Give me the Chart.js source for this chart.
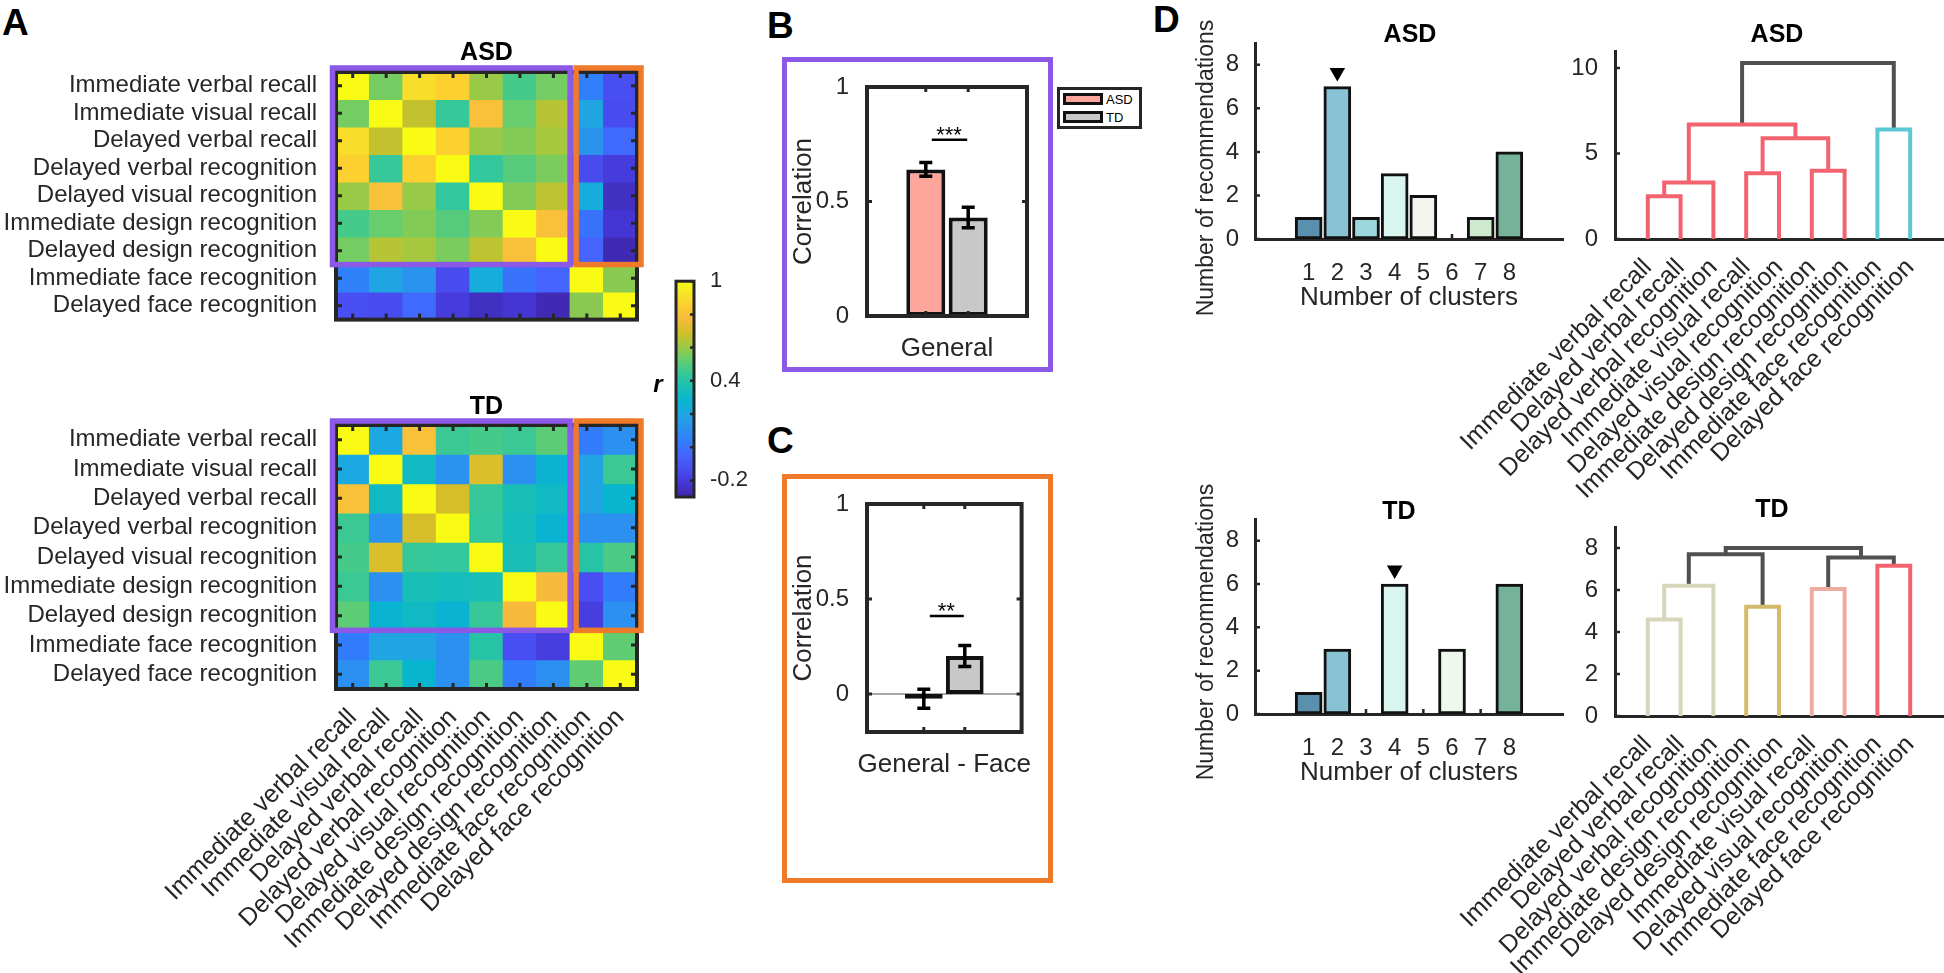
<!DOCTYPE html>
<html>
<head>
<meta charset="utf-8">
<title>Memory correlations ASD / TD</title>
<script src="https://cdn.jsdelivr.net/npm/chart.js@4.4.1/dist/chart.umd.min.js"></script>
<style>
  body { margin: 0; width: 1944px; height: 973px; position: relative; overflow: hidden; background: #fff;
         font-family: "Liberation Sans", Arial, Helvetica, sans-serif; color: #262626; }
  canvas { position: absolute; }
  .letter { position: absolute; font-size: 37px; line-height: 37px; font-weight: bold; color: #000; }
  .frame { position: absolute; box-sizing: border-box; border: 5px solid; }
  .legend { position: absolute; left: 1057px; top: 87px; width: 85px; height: 42px; box-sizing: border-box;
            border: 3px solid #262626; font-size: 13px; color: #000; }
  .legend div { height: 18px; display: flex; align-items: center; }
  .legend span { display: inline-block; width: 40px; height: 12px; box-sizing: border-box; border: 3px solid #111; margin: 0 3px; }
</style>
</head>
<body>
<div class="letter" style="left:2px;top:4px">A</div>
<div class="letter" style="left:767px;top:7px">B</div>
<div class="letter" style="left:767px;top:422px">C</div>
<div class="letter" style="left:1153px;top:1px">D</div>
<div class="frame" style="left:782px;top:57px;width:271px;height:315px;border-color:#8c58e6"></div>
<div class="frame" style="left:782px;top:474px;width:271px;height:409px;border-color:#ee7a2a"></div>
<div class="legend" id="legend"></div>
<script>
// Memory measures (rows / columns of the matrices)
const measures = [
    'Immediate verbal recall',
    'Immediate visual recall',
    'Delayed verbal recall',
    'Delayed verbal recognition',
    'Delayed visual recognition',
    'Immediate design recognition',
    'Delayed design recognition',
    'Immediate face recognition',
    'Delayed face recognition',
];
const generalCount = 7;

const asdCorr = [
    [1.00, 0.55, 0.90, 0.86, 0.60, 0.47, 0.55, 0.05, -0.13],
    [0.55, 1.00, 0.67, 0.44, 0.80, 0.53, 0.65, 0.20, -0.14],
    [0.90, 0.67, 1.00, 0.86, 0.60, 0.57, 0.62, 0.12, -0.03],
    [0.86, 0.44, 0.86, 1.00, 0.43, 0.50, 0.56, -0.14, -0.20],
    [0.60, 0.80, 0.60, 0.43, 1.00, 0.57, 0.66, 0.23, -0.25],
    [0.47, 0.53, 0.57, 0.50, 0.57, 1.00, 0.80, 0.00, -0.22],
    [0.55, 0.65, 0.62, 0.56, 0.66, 0.80, 1.00, -0.05, -0.28],
    [0.05, 0.20, 0.12, -0.14, 0.23, 0.00, -0.05, 1.00, 0.58],
    [-0.13, -0.14, -0.03, -0.20, -0.25, -0.22, -0.28, 0.58, 1.00],
];

const tdCorr = [
    [1.00, 0.21, 0.80, 0.45, 0.47, 0.45, 0.51, 0.03, 0.11],
    [0.21, 1.00, 0.32, 0.12, 0.71, 0.11, 0.27, 0.19, 0.45],
    [0.80, 0.32, 1.00, 0.70, 0.44, 0.36, 0.32, 0.20, 0.28],
    [0.45, 0.12, 0.70, 1.00, 0.43, 0.34, 0.27, 0.11, 0.11],
    [0.47, 0.71, 0.44, 0.43, 1.00, 0.36, 0.44, 0.40, 0.48],
    [0.45, 0.11, 0.36, 0.34, 0.36, 1.00, 0.77, -0.13, 0.03],
    [0.51, 0.27, 0.32, 0.27, 0.44, 0.77, 1.00, -0.19, 0.11],
    [0.03, 0.19, 0.20, 0.11, 0.40, -0.13, -0.19, 1.00, 0.52],
    [0.11, 0.45, 0.28, 0.11, 0.48, 0.03, 0.11, 0.52, 1.00],
];

// colour scale
const colorLimits = [-0.3, 1];
const colorTicks = [-0.2, 0.4, 1];
const colorMinorTicks = [-0.2, 0, 0.2, 0.4, 0.6, 0.8, 1];
const colorLabel = 'r';

// B / C
const groups = ['ASD', 'TD'];
const corrTicks = [0, 0.5, 1];
const generalMean = [0.64, 0.43];
const generalErr = [0.03, 0.045];
const generalSig = { text: '***', line: 0.77 };
const faceMean = [-0.025, 0.2];
const faceErr = [0.05, 0.055];
const faceSig = { text: '**', line: 0.41 };

// D: recommended number of clusters
const clusterNums = [1, 2, 3, 4, 5, 6, 7, 8];
const recTicks = [0, 2, 4, 6, 8];
const asdRecs = [1, 7, 1, 3, 2, 0, 1, 4];
const tdRecs = [1, 3, 0, 6, 0, 3, 0, 6];
const asdBest = 2;
const tdBest = 4;

// D: dendrograms, leaves in plotted order, merges = [node a, node b, height]
const asdLeaves = [
    'Immediate verbal recall',
    'Delayed verbal recall',
    'Delayed verbal recognition',
    'Immediate visual recall',
    'Delayed visual recognition',
    'Immediate design recognition',
    'Delayed design recognition',
    'Immediate face recognition',
    'Delayed face recognition',
];
const asdMerges = [[1, 2, 2.5], [10, 3, 3.3], [4, 5, 3.85], [6, 7, 4.0], [12, 13, 5.9], [11, 14, 6.7], [8, 9, 6.4], [15, 16, 10.3]];
const asdTreeTicks = [0, 5, 10];

const tdLeaves = [
    'Immediate verbal recall',
    'Delayed verbal recall',
    'Delayed verbal recognition',
    'Immediate design recognition',
    'Delayed design recognition',
    'Immediate visual recall',
    'Delayed visual recognition',
    'Immediate face recognition',
    'Delayed face recognition',
];
const tdMerges = [[1, 2, 4.6], [10, 3, 6.2], [4, 5, 5.2], [6, 7, 6.05], [8, 9, 7.15], [11, 12, 7.7], [13, 14, 7.55], [15, 16, 8.0]];
const tdTreeTicks = [0, 2, 4, 6, 8];

// styles
const ink = '#262626';
const family = '"Liberation Sans", Arial, Helvetica, sans-serif';
const purple = '#8c58e6';
const orange = '#ee7a2a';
const barEdge = '#111';
const groupFill = ['#ffa69c', '#c8c8c8'];
const clusterFill = ['#5b8fae', '#89c2d4', '#9cd7de', '#d9f5ef', '#f2f6ef', '#eef8ec', '#cdeacf', '#74b39a'];
const red = '#f2636f', grey = '#505050';
const asdLinkColors = [red, red, red, red, red, red, '#5ac8d2', grey];
const tdLinkColors = ['#d6d6ba', '#d6d6ba', '#d4ba6a', '#eeaca0', red, grey, grey, grey];
const rowFont = 24;
const nameFont = 25;

// parula colormap (64-step table, sampled)
const parulaIdx = [0, 4, 8, 12, 16, 20, 24, 28, 32, 36, 40, 44, 48, 52, 56, 60, 63];
const parulaRGB = [[62, 38, 168], [69, 55, 213], [72, 77, 240], [69, 99, 253], [50, 124, 252], [43, 145, 239],
    [32, 165, 227], [8, 181, 208], [25, 191, 182], [55, 200, 151], [100, 205, 111], [157, 201, 67],
    [209, 191, 39], [248, 186, 61], [252, 207, 48], [245, 233, 36], [249, 251, 21]];

function parula(v) {
    const t = Math.min(1, Math.max(0, (v - colorLimits[0]) / (colorLimits[1] - colorLimits[0]))) * 63;
    let k = 0;
    while (k < parulaIdx.length - 2 && t > parulaIdx[k + 1]) k++;
    const f = (t - parulaIdx[k]) / (parulaIdx[k + 1] - parulaIdx[k]);
    const c = parulaRGB[k].map((a, i) => Math.round(a + (parulaRGB[k + 1][i] - a) * f));
    return `rgb(${c})`;
}

Chart.defaults.font.family = family;
Chart.defaults.color = ink;
Chart.defaults.animation = false;
Chart.defaults.events = [];
Chart.defaults.plugins.legend.display = false;
Chart.defaults.plugins.tooltip.enabled = false;

function place(left, top, w, h) {
    const c = document.createElement('canvas');
    c.width = w;
    c.height = h;
    c.style.left = left + 'px';
    c.style.top = top + 'px';
    document.body.appendChild(c);
    return c;
}

// bold title centred over the plot area, optional free y label
const panelTitle = {
    id: 'panelTitle',
    afterDraw(chart, args, opts) {
        const { ctx, chartArea: a } = chart;
        ctx.save();
        if (opts.text) {
            ctx.font = `bold 25px ${family}`;
            ctx.fillStyle = '#000';
            ctx.textAlign = 'center';
            ctx.textBaseline = 'middle';
            ctx.fillText(opts.text, (a.left + a.right) / 2 + (opts.dx || 0), a.top - opts.dy);
        }
        if (opts.yLabel) {
            ctx.translate(opts.yLabel.x, opts.yLabel.y);
            ctx.rotate(-Math.PI / 2);
            ctx.font = `23px ${family}`;
            ctx.fillStyle = ink;
            ctx.textAlign = 'center';
            ctx.textBaseline = 'middle';
            ctx.fillText(opts.yLabel.text, 0, 0);
        }
        ctx.restore();
    }
};

// frame, inward ticks and the purple / orange blocks of a matrix
const heatBoxes = {
    id: 'heatBoxes',
    afterDatasetsDraw(chart) {
        const { ctx, chartArea: a, scales: { x, y } } = chart;
        const xe = k => x.getPixelForValue(k - 0.5);
        const ye = k => y.getPixelForValue(k);
        const n = measures.length;
        ctx.save();
        ctx.strokeStyle = ink;
        ctx.lineWidth = 4;
        ctx.strokeRect(a.left, a.top, a.width, a.height);
        ctx.lineWidth = 3;
        ctx.beginPath();
        for (let k = 0; k < n; k++) {
            const cx = x.getPixelForValue(k), cy = y.getPixelForValue(k + 0.5);
            ctx.moveTo(cx, a.top); ctx.lineTo(cx, a.top + 6);
            ctx.moveTo(cx, a.bottom); ctx.lineTo(cx, a.bottom - 6);
            ctx.moveTo(a.left, cy); ctx.lineTo(a.left + 6, cy);
            ctx.moveTo(a.right, cy); ctx.lineTo(a.right - 6, cy);
        }
        ctx.stroke();
        ctx.lineWidth = 5.5;
        ctx.strokeStyle = purple;
        ctx.strokeRect(xe(0) - 3.5, ye(0) - 4, xe(generalCount) - xe(0) + 3.5, ye(generalCount) - ye(0) + 4);
        ctx.strokeStyle = orange;
        ctx.strokeRect(xe(generalCount) + 6, ye(0) - 4, xe(n) - xe(generalCount) - 2, ye(generalCount) - ye(0) + 4);
        ctx.restore();
    }
};

function heatmap(corr, title, box, area, showNames) {
    return new Chart(place(...box), {
        type: 'bar',
        data: {
            labels: measures,
            datasets: corr.map((row, i) => ({
                label: measures[i],
                data: row.map(() => 1),
                backgroundColor: row.map(v => parula(v)),
                borderWidth: 0,
                inflateAmount: 0.5,
                barPercentage: 1,
                categoryPercentage: 1,
            }))
        },
        options: {
            responsive: false,
            layout: { padding: { left: 0, top: area.top, right: area.right, bottom: area.bottom } },
            scales: {
                x: {
                    stacked: true,
                    grid: { display: false },
                    border: { display: false },
                    ticks: { display: showNames, autoSkip: false, minRotation: 45, maxRotation: 45, font: { size: nameFont }, padding: 6 },
                    afterFit: s => { s.height = area.xh; }
                },
                y: {
                    stacked: true,
                    reverse: true,
                    min: 0,
                    max: measures.length,
                    grid: { display: false },
                    border: { display: false },
                    afterBuildTicks: s => { s.ticks = measures.map((_, i) => ({ value: i + 0.5 })); },
                    ticks: { callback: (v, i) => measures[i], font: { size: rowFont }, padding: 11 },
                    afterFit: s => { s.width = area.left; }
                }
            },
            plugins: { panelTitle: { text: title, dy: area.titleDy } }
        },
        plugins: [panelTitle, heatBoxes]
    });
}

heatmap(asdCorr, 'ASD', [0, 0, 660, 345], { left: 336, top: 72, right: 23, bottom: 9, xh: 0, titleDy: 19 }, false);
heatmap(tdCorr, 'TD', [0, 380, 660, 593], { left: 336, top: 45, right: 23, bottom: 0, xh: 284, titleDy: 18 }, true);

// colour bar
const colorStrip = {
    id: 'colorStrip',
    beforeDatasetsDraw(chart) {
        const { ctx, chartArea: a, scales: { y } } = chart;
        const g = ctx.createLinearGradient(0, y.getPixelForValue(colorLimits[0]), 0, y.getPixelForValue(colorLimits[1]));
        parulaIdx.forEach((k, i) => g.addColorStop(k / 63, `rgb(${parulaRGB[i]})`));
        ctx.save();
        ctx.fillStyle = g;
        ctx.fillRect(a.left, a.top, a.width, a.height);
        ctx.strokeStyle = ink;
        ctx.lineWidth = 3;
        ctx.strokeRect(a.left, a.top, a.width, a.height);
        ctx.lineWidth = 2.5;
        ctx.beginPath();
        colorMinorTicks.forEach(v => {
            const py = y.getPixelForValue(v);
            ctx.moveTo(a.right, py);
            ctx.lineTo(a.right - 4, py);
        });
        ctx.stroke();
        ctx.font = `italic bold 24px ${family}`;
        ctx.fillStyle = '#000';
        ctx.textAlign = 'center';
        ctx.textBaseline = 'middle';
        ctx.fillText(colorLabel, a.left - 18, (a.top + a.bottom) / 2 - 4);
        ctx.restore();
    }
};

new Chart(place(640, 260, 140, 260), {
    type: 'bar',
    data: { labels: [''], datasets: [] },
    options: {
        responsive: false,
        layout: { padding: { left: 36, top: 19, bottom: 23, right: 0 } },
        scales: {
            x: { display: false },
            y: {
                position: 'right',
                min: colorLimits[0],
                max: colorLimits[1],
                grid: { display: false },
                border: { display: false },
                afterBuildTicks: s => { s.ticks = colorMinorTicks.map(v => ({ value: v })); },
                ticks: { callback: v => colorTicks.includes(v) ? String(v) : '', font: { size: 22 }, padding: 8 },
                afterFit: s => { s.width = 86; }
            }
        }
    },
    plugins: [colorStrip]
});

// B / C helpers
const axesBox = {
    id: 'axesBox',
    beforeDatasetsDraw(chart) {
        const { ctx, chartArea: a, scales: { y } } = chart;
        if (y.min >= 0) return;
        ctx.save();
        ctx.strokeStyle = '#555';
        ctx.lineWidth = 1.2;
        ctx.beginPath();
        ctx.moveTo(a.left, y.getPixelForValue(0));
        ctx.lineTo(a.right, y.getPixelForValue(0));
        ctx.stroke();
        ctx.restore();
    },
    afterDatasetsDraw(chart) {
        const { ctx, chartArea: a, scales: { y } } = chart;
        ctx.save();
        ctx.strokeStyle = ink;
        ctx.lineWidth = 4;
        ctx.strokeRect(a.left, a.top, a.width, a.height);
        ctx.lineWidth = 3;
        ctx.beginPath();
        chart.data.datasets.forEach((ds, i) => {
            const px = chart.getDatasetMeta(i).data[0].x;
            ctx.moveTo(px, a.top); ctx.lineTo(px, a.top + 5);
            ctx.moveTo(px, a.bottom); ctx.lineTo(px, a.bottom - 5);
        });
        y.ticks.forEach(t => {
            const py = y.getPixelForValue(t.value);
            ctx.moveTo(a.left, py); ctx.lineTo(a.left + 5, py);
            ctx.moveTo(a.right, py); ctx.lineTo(a.right - 5, py);
        });
        ctx.stroke();
        ctx.restore();
    }
};

const errorBars = {
    id: 'errorBars',
    afterDatasetsDraw(chart, args, opts) {
        const { ctx, scales: { y } } = chart;
        const xs = chart.data.datasets.map((ds, i) => chart.getDatasetMeta(i).data[0].x);
        ctx.save();
        ctx.strokeStyle = '#000';
        ctx.lineWidth = 3.5;
        ctx.beginPath();
        chart.data.datasets.forEach((ds, i) => {
            const m = ds.data[0], e = opts.errs[i];
            const hi = y.getPixelForValue(m + e), lo = y.getPixelForValue(m - e);
            ctx.moveTo(xs[i], hi); ctx.lineTo(xs[i], lo);
            ctx.moveTo(xs[i] - 6.5, hi); ctx.lineTo(xs[i] + 6.5, hi);
            ctx.moveTo(xs[i] - 6.5, lo); ctx.lineTo(xs[i] + 6.5, lo);
        });
        ctx.stroke();
        const ly = y.getPixelForValue(opts.sig.line);
        ctx.lineWidth = 2.5;
        ctx.beginPath();
        ctx.moveTo(xs[0] + 6, ly);
        ctx.lineTo(xs[1] - 1, ly);
        ctx.stroke();
        ctx.font = `22px ${family}`;
        ctx.fillStyle = '#000';
        ctx.textAlign = 'center';
        ctx.textBaseline = 'alphabetic';
        ctx.fillText(opts.sig.text, (xs[0] + xs[1]) / 2 + 2, ly + 2);
        ctx.restore();
    }
};

function groupBars(box, area, category, means, errs, sig, yRange) {
    return new Chart(place(...box), {
        type: 'bar',
        data: {
            labels: [category],
            datasets: groups.map((g, i) => ({
                label: g,
                data: [means[i]],
                backgroundColor: groupFill[i],
                borderColor: barEdge,
                borderWidth: 4,
                borderSkipped: false,
                categoryPercentage: 0.53,
                barPercentage: 0.92,
            }))
        },
        options: {
            responsive: false,
            layout: { padding: { left: 0, top: area.top, right: area.right, bottom: 0 } },
            scales: {
                x: {
                    grid: { display: false },
                    border: { display: false },
                    ticks: { font: { size: 26 }, padding: 9 },
                    afterFit: s => { s.height = area.xh; }
                },
                y: {
                    min: yRange[0],
                    max: yRange[1],
                    grid: { display: false },
                    border: { display: false },
                    afterBuildTicks: s => { s.ticks = corrTicks.map(v => ({ value: v })); },
                    ticks: { callback: v => String(v), font: { size: 24 }, padding: 10 },
                    title: { display: true, text: 'Correlation', font: { size: 26 }, padding: { top: 6, bottom: 0 } },
                    afterFit: s => { s.width = area.left; }
                }
            },
            plugins: { errorBars: { errs, sig } }
        },
        plugins: [axesBox, errorBars]
    });
}

const bChart = groupBars([782, 57, 271, 315], { left: 85, top: 30, right: 26, xh: 56 }, 'General', generalMean, generalErr, generalSig, [0, 1]);
groupBars([782, 474, 271, 409], { left: 85, top: 30, right: 26, xh: 151 }, 'General - Face', faceMean, faceErr, faceSig, [-0.2, 1]);

document.getElementById('legend').innerHTML = bChart.data.datasets
    .map(ds => `<div><span style="background:${ds.backgroundColor}"></span>${ds.label}</div>`).join('');

// D helpers
const inwardTicks = {
    id: 'inwardTicks',
    beforeDatasetsDraw(chart) {
        const { ctx, chartArea: a, scales: { x, y } } = chart;
        ctx.save();
        ctx.strokeStyle = ink;
        ctx.lineWidth = 2.5;
        ctx.beginPath();
        x.ticks.forEach(t => { const px = x.getPixelForValue(t.value); ctx.moveTo(px, a.bottom); ctx.lineTo(px, a.bottom - 5); });
        y.ticks.forEach(t => { const py = y.getPixelForValue(t.value); ctx.moveTo(a.left, py); ctx.lineTo(a.left + 5, py); });
        ctx.stroke();
        ctx.restore();
    }
};

function clusterBars(box, area, counts, best, title) {
    return new Chart(place(...box), {
        type: 'bar',
        data: {
            datasets: [{
                type: 'scatter',
                data: [{ x: best, y: counts[best - 1] + 0.65 }],
                pointStyle: 'triangle',
                rotation: 180,
                pointRadius: 9,
                backgroundColor: '#000',
                borderWidth: 0,
            }, {
                data: clusterNums.map((k, i) => ({ x: k, y: counts[i] })),
                backgroundColor: clusterFill,
                borderColor: barEdge,
                borderWidth: 3,
                borderSkipped: false,
                barThickness: 27,
            }]
        },
        options: {
            responsive: false,
            layout: { padding: { left: 0, top: area.top, right: area.right, bottom: 0 } },
            scales: {
                x: {
                    type: 'linear',
                    min: -0.2,
                    max: 9.2,
                    grid: { display: false },
                    border: { color: ink, width: 3 },
                    afterBuildTicks: s => { s.ticks = clusterNums.map(v => ({ value: v })); },
                    ticks: { callback: v => String(v), font: { size: 24 }, padding: 12 },
                    title: { display: true, text: 'Number of clusters', font: { size: 26 }, padding: { top: 0, bottom: area.xTitlePad } },
                    afterFit: s => { s.height = area.xh; }
                },
                y: {
                    min: 0,
                    max: 9,
                    grid: { display: false },
                    border: { color: ink, width: 3 },
                    afterBuildTicks: s => { s.ticks = recTicks.map(v => ({ value: v })); },
                    ticks: { callback: v => String(v), font: { size: 24 }, padding: 8 },
                    afterFit: s => { s.width = area.left; }
                }
            },
            plugins: {
                panelTitle: {
                    text: title, dy: area.titleDy, dx: area.titleDx,
                    yLabel: { text: 'Number of recommendations', x: 57, y: area.yLabelAt }
                }
            }
        },
        plugins: [panelTitle, inwardTicks]
    });
}

clusterBars([1150, 0, 430, 340], { left: 105, top: 43, right: 17, xh: 101, xTitlePad: 27, titleDy: 8, titleDx: 1, yLabelAt: 168 }, asdRecs, asdBest, 'ASD');
clusterBars([1150, 470, 430, 340], { left: 105, top: 49, right: 17, xh: 96, xTitlePad: 22, titleDy: 7, titleDx: -10, yLabelAt: 162 }, tdRecs, tdBest, 'TD');

function dendroLinks(n, merges, colors) {
    const pos = [], ht = [];
    for (let i = 1; i <= n; i++) { pos[i] = i; ht[i] = 0; }
    return merges.map(([a, b, h], k) => {
        const id = n + 1 + k;
        pos[id] = (pos[a] + pos[b]) / 2;
        ht[id] = h;
        return {
            data: [{ x: pos[a], y: ht[a] }, { x: pos[a], y: h }, { x: pos[b], y: h }, { x: pos[b], y: ht[b] }],
            borderColor: colors[k],
            borderWidth: 4,
            showLine: true,
            pointRadius: 0,
        };
    });
}

function dendrogram(box, area, leaves, merges, colors, ticks, yMax, title) {
    return new Chart(place(...box), {
        type: 'scatter',
        data: { datasets: dendroLinks(leaves.length, merges, colors) },
        options: {
            responsive: false,
            layout: { padding: { left: 0, top: area.top, right: area.right, bottom: 0 } },
            scales: {
                x: {
                    type: 'linear',
                    min: 0,
                    max: leaves.length + 1,
                    grid: { display: false },
                    border: { color: ink, width: 3 },
                    afterBuildTicks: s => { s.ticks = leaves.map((_, i) => ({ value: i + 1 })); },
                    ticks: { callback: (v, i) => leaves[i], autoSkip: false, minRotation: 45, maxRotation: 45, font: { size: nameFont }, padding: 6 },
                    afterFit: s => { s.height = area.xh; }
                },
                y: {
                    min: 0,
                    max: yMax,
                    grid: { display: false },
                    border: { color: ink, width: 3 },
                    afterBuildTicks: s => { s.ticks = ticks.map(v => ({ value: v })); },
                    ticks: { callback: v => String(v), font: { size: 24 }, padding: 9 },
                    afterFit: s => { s.width = area.left; }
                }
            },
            plugins: { panelTitle: { text: title, dy: area.titleDy, dx: area.titleDx } }
        },
        plugins: [panelTitle, inwardTicks]
    });
}

dendrogram([1440, 0, 504, 500], { left: 175, top: 51, right: 1, xh: 261, titleDy: 16, titleDx: -2 }, asdLeaves, asdMerges, asdLinkColors, asdTreeTicks, 11, 'ASD');
dendrogram([1440, 470, 504, 503], { left: 175, top: 57, right: 1, xh: 257, titleDy: 17, titleDx: -7 }, tdLeaves, tdMerges, tdLinkColors, tdTreeTicks, 9, 'TD');
</script>
</body>
</html>
